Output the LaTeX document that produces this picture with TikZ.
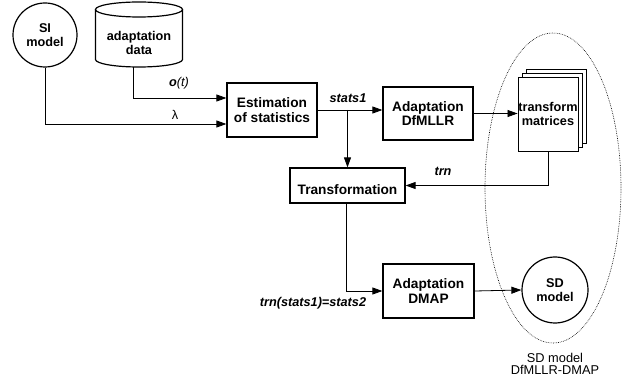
\documentclass[tikz,border=0pt]{standalone}
\usepackage{fontspec}
\setmainfont{Liberation Sans}
\usetikzlibrary{arrows.meta,shapes.geometric,shadows}

\newcommand\boxfont{\fontsize{13.7}{14.5}\selectfont\bfseries}
\newcommand\capfont{\fontsize{12.7}{14}\selectfont}

\begin{document}
\begin{tikzpicture}[x=1pt,y=-1pt,
  arr/.style={-{Triangle[length=10pt,width=7pt]},line width=0.8pt},
  blk/.style={draw,line width=1.2pt,align=center,font=\boxfont,inner sep=0pt},
  model/.style={circle,draw,line width=1.2pt,align=center,font=\capfont\bfseries,minimum size=64pt,inner sep=0pt},
  lbl/.style={font=\capfont\bfseries\itshape,inner sep=0pt}]
\useasboundingbox (0,0) rectangle (629,387);
% inputs
\node[model] (si) at (45,35) {SI\\model};
\node[minimum width=87pt,minimum height=65pt,inner sep=0pt] (data) at (139,34.5) {};
\draw[line width=1.2pt] (95.5,9.5) -- (95.5,59.5) arc[start angle=180,end angle=360,x radius=43.5pt,y radius=7.5pt] -- (182.5,9.5);
\draw[line width=1.2pt] (139,9.5) ellipse[x radius=43.5pt,y radius=7.5pt];
\node[align=center,font=\capfont\bfseries,inner sep=0pt] (datatext) at (139,43) {adaptation\\data};
% processing blocks
\node[blk,minimum width=90pt,minimum height=54pt] (est) at (272,110) {Estimation\\of statistics};
\node[blk,minimum width=90pt,minimum height=53pt] (dfm) at (428,113.5) {Adaptation\\DfMLLR};
\node[blk,minimum width=115pt,minimum height=35pt,text height=19pt,text depth=0pt] (trans) at (347.5,185.5) {Transformation};
\node[blk,minimum width=91pt,minimum height=54pt] (dmap) at (428.5,291) {Adaptation\\DMAP};
% outputs
\node[draw,line width=0.9pt,fill=white,minimum width=60pt,minimum height=74pt,inner sep=0pt,align=center,font=\capfont\bfseries,
  double copy shadow={shadow xshift=4pt,shadow yshift=4pt,fill=white,draw,line width=0.9pt}] (mat) at (548,114) {transform\\matrices};
\node[model,minimum size=66pt] (sd) at (555,290) {SD\\model};
\node[ellipse,draw,dash pattern=on 0.7pt off 1pt,line width=0.6pt,minimum width=136pt,minimum height=310pt,inner sep=0pt] (grp) at (553,188) {};
\node[font=\fontsize{12.8}{12}\selectfont,align=center] (grpname) at (555,364) {SD model\\DfMLLR-DMAP};
% connectors
\draw[arr] ([xshift=-6pt]data.south) |- ([yshift=12pt]est.west);
\node[lbl] (ot) at (179,83) {\textit{o}\textmd{\textit{(t)}}};
\draw[arr] (si.south) |- ([yshift=-14pt]est.west);
\node[font=\capfont] (lam) at (175,115) {λ};
\draw[arr] (est.east) -- (est.east -| dfm.west);
\coordinate (split) at (est.east -| trans.north);
\draw[arr] (split) -- (trans.north);
\node[lbl] (s1) at (348,98.5) {stats1};
\draw[arr] (dfm.east) -- (dfm.east -| mat.west);
\draw[arr] (mat.south) |- (trans.east);
\node[lbl] (trn) at (443,171.5) {trn};
\draw[arr] ([xshift=-1.5pt]trans.south) |- (dmap.west);
\node[lbl] (eq) at (313,303) {trn(stats1)=stats2};
\draw[arr] (dmap.east) -- (sd.west);
\end{tikzpicture}
\end{document}
